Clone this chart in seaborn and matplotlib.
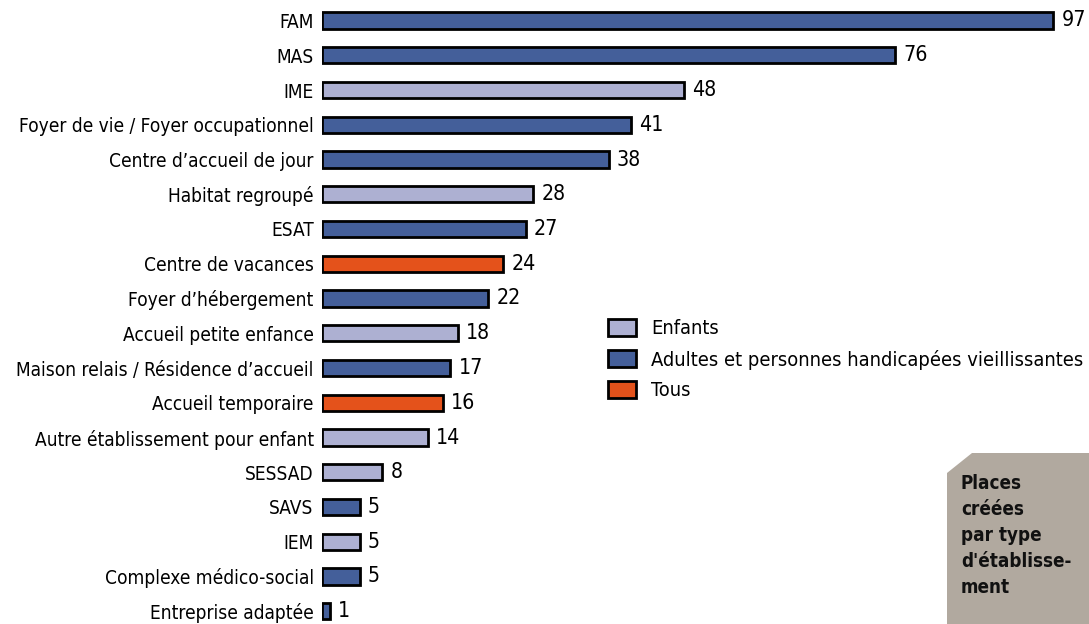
import numpy as np
import pandas as pd
import matplotlib.pyplot as plt
import seaborn as sns
from matplotlib.patches import Patch, Polygon

# ==============================
# DATA
# ==============================
types = [
    "FAM", "MAS", "IME", "Foyer de vie / Foyer occupationnel",
    "Centre d\u2019accueil de jour", "Habitat regroupé", "ESAT",
    "Centre de vacances", "Foyer d\u2019hébergement", "Accueil petite enfance",
    "Maison relais / Résidence d\u2019accueil", "Accueil temporaire",
    "Autre établissement pour enfant", "SESSAD", "SAVS", "IEM",
    "Complexe médico-social", "Entreprise adaptée",
]
places = [97, 76, 48, 41, 38, 28, 27, 24, 22, 18, 17, 16, 14, 8, 5, 5, 5, 1]
groupes = [
    "Adultes", "Adultes", "Enfants", "Adultes", "Adultes", "Enfants", "Adultes",
    "Tous", "Adultes", "Enfants", "Adultes", "Tous", "Enfants", "Enfants",
    "Adultes", "Enfants", "Adultes", "Adultes",
]
legend_labels = ["Enfants", "Adultes et personnes handicapées vieillissantes", "Tous"]
hue_order = ["Enfants", "Adultes", "Tous"]
colors = {"Enfants": "#adb0d2", "Adultes": "#445f9a", "Tous": "#e4521b"}

df = pd.DataFrame({"type": types, "places": places, "groupe": groupes})

# ==============================
# FIGURE
# ==============================
sns.set_style("white")
plt.rcParams["font.family"] = ["DejaVu Sans"]
plt.rcParams["font.stretch"] = "condensed"
plt.rcParams["text.color"] = "black"
plt.rcParams["ytick.color"] = "black"

W, H = 1089, 624
fig = plt.figure(figsize=(W / 100, H / 100), dpi=100)
x0, x1 = 322, 1076
ax = fig.add_axes([x0 / W, 0, (x1 - x0) / W, 1])

sns.barplot(
    data=df, y="type", x="places", hue="groupe", hue_order=hue_order,
    palette=colors, saturation=1, dodge=False, width=0.47, order=types,
    edgecolor="black", linewidth=2, ax=ax, legend=False,
)

# ligne i -> pixel 20.5 + 34.75*i
step = 34.75
first = 20.5
ax.set_ylim((H - first) / step, -first / step)
ax.set_xlim(0, 100)

for c in ax.containers:
    labels = [f"{v:.0f}" if v > 0 else "" for v in c.datavalues]
    ax.bar_label(c, labels=labels, padding=6, fontsize=15.3, clip_on=False)

ax.set_xlabel("")
ax.set_ylabel("")
ax.set_xticks([])
ax.tick_params(axis="y", length=0, pad=6, labelsize=13.7)
sns.despine(ax=ax, left=True, bottom=True, top=True, right=True)

# ==============================
# LEGENDE
# ==============================
handles = [
    Patch(facecolor=colors[g], edgecolor="black", linewidth=2, label=l)
    for g, l in zip(hue_order, legend_labels)
]
fig.legend(
    handles=handles, loc="upper left", bbox_to_anchor=(598 / W, 1 - 309 / H),
    frameon=False, fontsize=14.4, handlelength=1.4, handleheight=0.95,
    handletextpad=0.75, labelspacing=0.55, borderpad=0,
)

# ==============================
# ENCADRE
# ==============================
box = [(947, 473), (972, 453), (1089, 453), (1089, 624), (947, 624)]
fig.patches.append(Polygon(
    [(x / W, 1 - y / H) for x, y in box], closed=True,
    transform=fig.transFigure, facecolor="#b1a99f", edgecolor="none",
))
fig.text(
    961 / W, 1 - 474 / H, "Places\ncréées\npar type\nd'établisse-\nment",
    ha="left", va="top", fontsize=13.5, fontweight="bold", linespacing=1.47,
    color="#111111",
)

plt.savefig("out.png", dpi=100)
